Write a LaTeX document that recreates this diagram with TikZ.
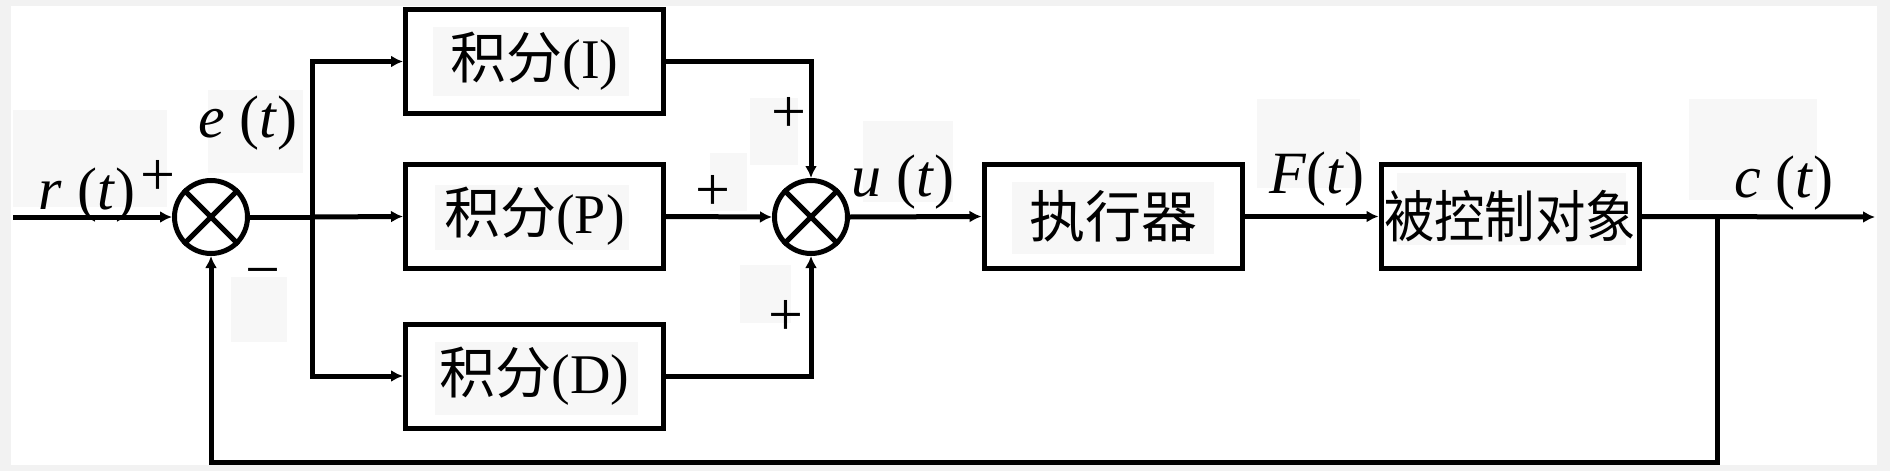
\documentclass[tikz,border=0pt]{standalone}
\usepackage{fontspec}
\usepackage{graphicx}
\setmainfont{Liberation Serif}
\newfontfamily\cjk{Noto Sans CJK SC}
\usetikzlibrary{arrows.meta,calc}
\begin{document}
\begin{tikzpicture}[x=1pt,y=-1pt,
  blk/.style={draw, line width=5pt, minimum width=258pt, minimum height=104pt, inner sep=0pt, font=\fontsize{56}{60}\selectfont},
  sumnode/.style={draw, circle, line width=5pt, minimum size=73pt, inner sep=0pt},
  ln/.style={line width=5pt},
  arr/.style={-{Latex[length=12pt,width=12pt]}},
  lab/.style={inner sep=0pt, font=\fontsize{60}{64}\selectfont},
  sgn/.style={inner sep=0pt, anchor=base, font=\fontsize{62}{66}\selectfont},
  patch/.style={fill=black!3}
]
\useasboundingbox (0,0) rectangle (1890,471);
% background frame and faint patches
\fill[black!5] (0,0) rectangle (1890,471);
\fill[white] (11,6) rectangle (1877,465);
\fill[patch] (13,110) rectangle (167,207);
\fill[patch] (208,90) rectangle (303,173);
\fill[patch] (231,277) rectangle (287,342);
\fill[patch] (433,27) rectangle (629,96);
\fill[patch] (435,185) rectangle (629,250);
\fill[patch] (435,342) rectangle (638,415);
\fill[patch] (750,98) rectangle (798,165);
\fill[patch] (710,153) rectangle (747,211);
\fill[patch] (740,265) rectangle (791,323);
\fill[patch] (863,121) rectangle (953,202);
\fill[patch] (1012,182) rectangle (1214,254);
\fill[patch] (1257,99) rectangle (1360,188);
\fill[patch] (1397,173) rectangle (1626,245);
\fill[patch] (1689,99) rectangle (1817,200);

% nodes
\node[sumnode] (s1) at (211,217) {};
\node[sumnode] (s2) at (811,217) {};
\draw[ln] (s1.45) -- (s1.225) (s1.135) -- (s1.315);
\draw[ln] (s2.45) -- (s2.225) (s2.135) -- (s2.315);
\node[blk] (bi) at (534.5,61.5) {{\cjk 积分}(I)};
\node[blk] (bp) at (534.5,216.5) {{\cjk 积分}(P)};
\node[blk] (bd) at (534.5,376) {{\cjk 积分}(D)};
\node[blk] (act) at (1113,216.5) {{\cjk 执行器}};
\node[blk] (plant) at (1510,216.5) {\scalebox{0.9}[1]{\cjk 被控制对象}};
\coordinate (in) at (13,217);
\coordinate (out) at (1875,217);
\coordinate (br) at (312,217);
\coordinate (fb) at (1717,217);
\coordinate (fbb) at (1717,462);

% connectors
\draw[ln,arr] (in) -- (s1.west);
\draw[ln] (s1.east) -- (br);
\draw[ln,arr] (br) -- (bp.west);
\draw[ln,arr] (br) |- (bi.west);
\draw[ln,arr] (br) |- (bd.west);
\draw[ln,arr] (bi.east) -| (s2.north);
\draw[ln,arr] (bp.east) -- (s2.west);
\draw[ln,arr] (bd.east) -| (s2.south);
\draw[ln,arr] (s2.east) -- (act.west);
\draw[ln,arr] (act.east) -- (plant.west);
\draw[ln,arr] (plant.east) -- (out);
\draw[ln,arr] (fb) -- (fbb) -| (s1.south);

% signal labels
\node[lab] (lr) at (87,195) {\textit{r} (\textit{t})};
\node[lab] (le) at (248,123) {\textit{e} (\textit{t})};
\node[lab] (lu) at (903,182) {\textit{u} (\textit{t})};
\node[lab] (lf) at (1317,179) {\textit{F}(\textit{t})};
\node[lab] (lc) at (1784,183) {\textit{c} (\textit{t})};

% signs
\node[sgn] (p1) at (158,195.5) {+};
\node[sgn] (m1) at (263,290.5) {−};
\node[sgn] (p2) at (789,132.5) {+};
\node[sgn] (p3) at (713,210.5) {+};
\node[sgn] (p4) at (786,335.5) {+};
\end{tikzpicture}
\end{document}
